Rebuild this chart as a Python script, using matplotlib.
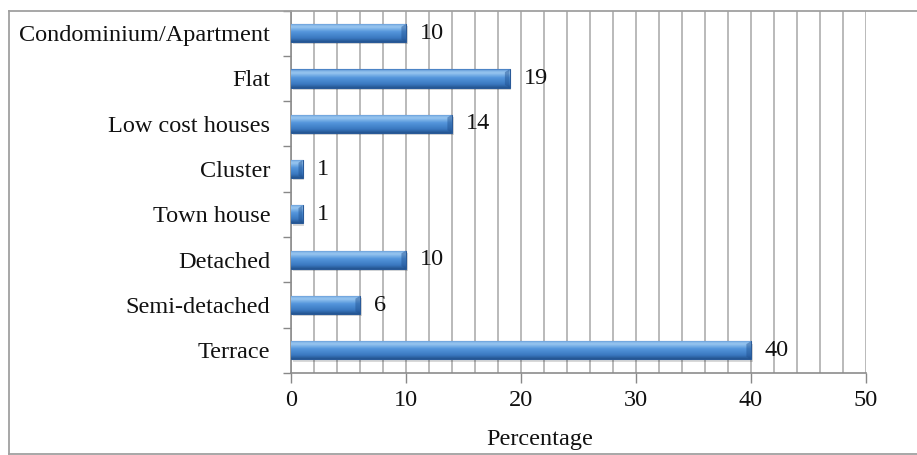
import numpy as np
import matplotlib.pyplot as plt
from matplotlib.patches import Polygon
from matplotlib.lines import Line2D
from matplotlib.colors import LinearSegmentedColormap

categories = ["Terrace", "Semi-detached", "Detached", "Town house",
              "Cluster", "Low cost houses", "Flat", "Condominium/Apartment"]
values = [40, 6, 10, 1, 1, 14, 19, 10]
xticks = [0, 10, 20, 30, 40, 50]

plt.rcParams['font.family'] = ['Liberation Serif', 'DejaVu Serif']

W, H = 917, 455
fig = plt.figure(figsize=(W / 100, H / 100), dpi=100)
ax = fig.add_axes([291 / W, 1 - 373 / H, (866 - 291) / W, (373 - 10.5) / H])

grid_c = "#b4b4b4"
fs = 17.5
y = np.arange(len(categories))
bh = 0.40

# drop shadow under each bar
for yi, v in zip(y, values):
    ax.barh(yi - 0.05, v, height=bh, left=0.15, color="#000000", alpha=0.15,
            zorder=2, linewidth=0)

bars = ax.barh(y, values, height=bh, color="#4a8ad0", edgecolor="#2a5a98",
               linewidth=0.8, zorder=3)

# glossy vertical gradient clipped to each bar
cmap = LinearSegmentedColormap.from_list(
    "gloss", [(0.0, "#23548f"), (0.2, "#3a78c0"), (0.55, "#5596dc"),
              (0.8, "#98c6f0"), (0.92, "#7fb2e6"), (1.0, "#3b74bb")])
grad = np.linspace(0, 1, 64).reshape(-1, 1)
for b in bars:
    x0, y0 = b.get_x(), b.get_y()
    w, h = b.get_width(), b.get_height()
    im = ax.imshow(grad, cmap=cmap, aspect="auto", origin="lower",
                   extent=[x0, x0 + w, y0, y0 + h], zorder=3.5,
                   interpolation="bilinear")
    im.set_clip_path(b)
    # bevelled end cap
    cw = min(0.4, w * 0.35)
    xe = x0 + w
    ax.add_patch(Polygon([(xe - cw, y0 + h * 0.15), (xe, y0), (xe, y0 + h),
                          (xe - cw, y0 + h * 0.85)], closed=True,
                         facecolor="#1f4f8e", alpha=0.45, linewidth=0, zorder=3.6))

for yi, v in zip(y, values):
    ax.annotate(str(v), (v, yi), xytext=(10, 0), textcoords="offset points",
                ha="left", va="center", fontsize=fs, color="#111111")

ax.set_xlim(0, 50)
ax.set_ylim(-0.5, len(categories) - 0.5)
ax.set_yticks(y)
ax.set_yticklabels(categories, fontsize=fs)
ax.set_yticks(np.arange(-0.5, len(categories), 1), minor=True)
ax.tick_params(axis="y", which="major", length=0, pad=15, colors="#111111")
ax.tick_params(axis="y", which="minor", length=6, color="#888888", width=1)

ax.set_xticks(xticks)
ax.set_xticks(np.arange(0, 51, 2), minor=True)
ax.tick_params(axis="x", which="major", length=7, color="#888888", width=1,
               labelsize=fs, pad=5, colors="#111111")
ax.tick_params(axis="x", which="minor", length=0)
for t in ax.get_xticklines():
    t.set_color("#888888")
ax.grid(axis="x", which="both", color=grid_c, linewidth=1.3, zorder=0)
ax.set_axisbelow(True)

for s in ["top", "right"]:
    ax.spines[s].set_visible(False)
for s in ["left", "bottom"]:
    ax.spines[s].set_color("#8c8c8c")
    ax.spines[s].set_linewidth(1.2)

fig.text(540 / W, 1 - 440 / H, "Percentage", ha="center", va="center",
         fontsize=fs, color="#111111")

# outer chart frame: top, left and bottom edges only
top, bot, lft = 1 - 11 / H, 1.5 / H, 8.5 / W
for xs, ys in [([lft, 1.5], [top, top]), ([lft, lft], [bot, top]),
               ([lft, 1.5], [bot, bot])]:
    fig.add_artist(Line2D(xs, ys, transform=fig.transFigure, color="#a0a0a0",
                          linewidth=1.3))

fig.savefig("out.png", dpi=100)
